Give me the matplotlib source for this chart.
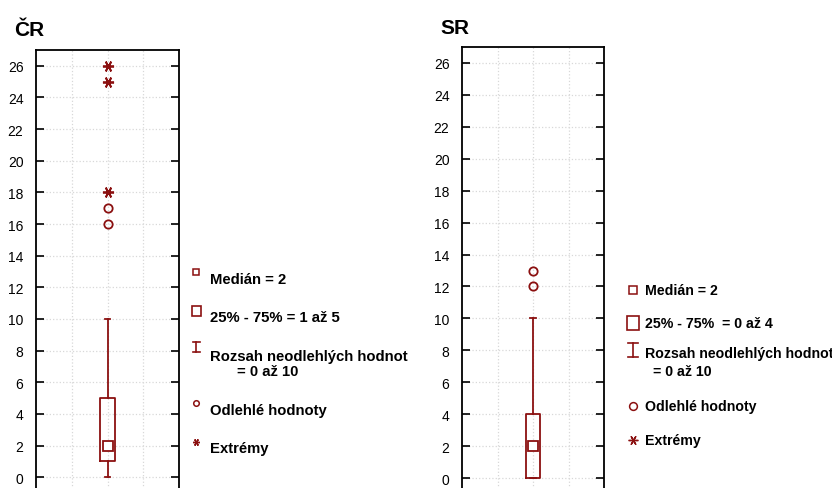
import matplotlib.pyplot as plt
from matplotlib.lines import Line2D
from matplotlib.patches import Rectangle

plt.rcParams['font.family'] = ['Liberation Sans', 'DejaVu Sans']

RED = '#8B1010'

# data
panels = ['ČR', 'SR']
medians = [2, 2]
q1 = [1, 0]
q3 = [5, 4]
whislo = [0, 0]
whishi = [10, 10]
outliers = [[16, 17], [12, 13]]
extremes = [[18, 25, 26], []]
yticks = list(range(0, 27, 2))

legend_texts = [
    ['Medián = 2', '25% - 75% = 1 až 5', 'Rozsah neodlehlých hodnot', '= 0 až 10',
     'Odlehlé hodnoty', 'Extrémy'],
    ['Medián = 2', '25% - 75%  = 0 až 4', 'Rozsah neodlehlých hodnot', '= 0 až 10',
     'Odlehlé hodnoty', 'Extrémy'],
]

W, H = 832, 489
fig = plt.figure(figsize=(W / 100, H / 100), dpi=100)

def fx(px):
    return px / W

def fy(py):
    return 1 - py / H

# axes boxes in pixels: left, top, right, bottom
ax_px = [(36, 51, 179, 494), (462, 48, 604, 495)]
title_px = [(14, 36), (440, 34)]

asterisk = (6, 2, 90)

for i in range(2):
    l, t, r, b = ax_px[i]
    ax = fig.add_axes([fx(l), fy(b), fx(r - l), (b - t) / H])
    stats = [dict(med=medians[i], q1=q1[i], q3=q3[i], whislo=whislo[i],
                  whishi=whishi[i], fliers=[])]
    ax.bxp(stats, positions=[2], widths=0.4, capwidths=0.15, showfliers=False,
           boxprops=dict(color=RED, lw=1.3),
           whiskerprops=dict(color=RED, lw=1.3),
           capprops=dict(color=RED, lw=1.3),
           medianprops=dict(linestyle='none'))
    ax.plot([2], [medians[i]], marker='s', ms=6.5, mfc='white', mec=RED, mew=1.3,
            ls='none', zorder=5)
    ax.plot([2] * len(outliers[i]), outliers[i], marker='o', ms=6, mfc='none',
            mec=RED, mew=1.3, ls='none')
    if extremes[i]:
        ax.plot([2] * len(extremes[i]), extremes[i], marker=asterisk, ms=8,
                mec=RED, mew=1.3, ls='none')
    ax.set_xlim(0, 4)
    ax.set_ylim(-1, 27)
    ax.set_xticks([1, 2, 3])
    ax.set_yticks(yticks)
    ax.tick_params(axis='x', length=0, labelbottom=False)
    ax.tick_params(axis='y', direction='in', length=6, width=1.2, right=True,
                   labelsize=10, pad=9)
    ax.grid(True, color='#d8d8d8', ls=':', lw=0.9)
    ax.set_axisbelow(True)
    for s in ax.spines.values():
        s.set_linewidth(1.3)
    fig.text(fx(title_px[i][0]), fy(title_px[i][1]), panels[i],
             fontsize=15, fontweight='bold', va='baseline')

# legends drawn in figure coordinates
def legend(txt, mx, tx, ys, y2x, scale, fs):
    tr = fig.transFigure
    y_med, y_box, y_rng, y_rng2, y_out, y_ext = ys
    fig.add_artist(Line2D([fx(mx)], [fy(y_med[0])], marker='s', ms=4.5 * scale,
                          mfc='white', mec=RED, mew=1.1, ls='none', transform=tr))
    bw, bh = 9 * scale, 10 * scale
    fig.add_artist(Rectangle((fx(mx - bw / 2), fy(y_box[0] + bh / 2)), bw / W, bh / H,
                             fill=False, ec=RED, lw=1.2, transform=tr))
    ih, iw = 10 * scale, 7 * scale
    yc = y_rng[0]
    fig.add_artist(Line2D([fx(mx), fx(mx)], [fy(yc - ih / 2), fy(yc + ih / 2)],
                          color=RED, lw=1.2, transform=tr))
    for yy in (yc - ih / 2, yc + ih / 2):
        fig.add_artist(Line2D([fx(mx - iw / 2), fx(mx + iw / 2)], [fy(yy), fy(yy)],
                              color=RED, lw=1.2, transform=tr))
    fig.add_artist(Line2D([fx(mx)], [fy(y_out[0])], marker='o', ms=4 * scale,
                          mfc='none', mec=RED, mew=1.1, ls='none', transform=tr))
    fig.add_artist(Line2D([fx(mx)], [fy(y_ext[0])], marker=asterisk, ms=5 * scale,
                          mec=RED, mew=1.0, ls='none', transform=tr))
    text_ys = [y_med[1], y_box[1], y_rng[1], y_rng2, y_out[1], y_ext[1]]
    for k, (s, yy) in enumerate(zip(txt, text_ys)):
        xx = y2x if k == 3 else tx
        fig.text(fx(xx), fy(yy), s, fontsize=fs, fontweight='bold', va='center')

legend(legend_texts[0], 196, 210,
       [(273, 280), (312, 318), (348, 357), 372, (404, 411), (443, 449)], 237, 1.0, 10.7)
legend(legend_texts[1], 633, 645,
       [(291, 291), (324, 324), (351, 354), 372, (407, 407), (441, 441)], 653, 1.4, 10.2)

fig.savefig('out.png', dpi=100)
